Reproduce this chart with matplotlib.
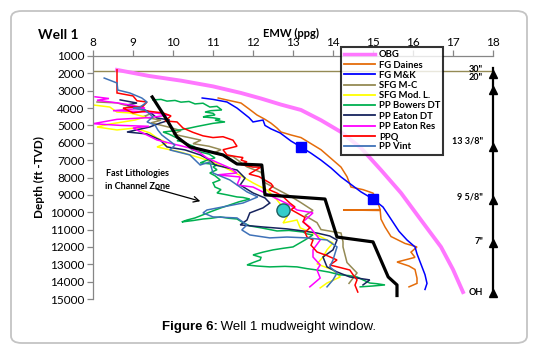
import matplotlib
matplotlib.use("Agg")
import matplotlib.pyplot as plt
from matplotlib.patches import FancyBboxPatch

plt.rcParams['font.family'] = ['Lato', 'DejaVu Sans']

# ---------------- data (EMW ppg, depth ft TVD) ----------------
obg_x = [8.6, 9.4, 10.2, 11.0, 11.7, 12.2, 12.7, 13.2, 13.7, 14.2, 14.7, 15.2, 15.7, 16.2, 16.7, 17.0, 17.25]
obg_d = [1800, 2150, 2420, 2750, 3130, 3450, 3800, 4110, 4700, 5380, 6300, 7570, 8890, 10450, 12000, 13300, 14600]

daines_x = [11.13, 11.4, 11.7, 11.9, 12.1, 12.3, 12.45, 12.6, 12.7, 12.95, 13.2, 13.45, 13.7, 13.95, 14.2, 14.35,
            14.45, 14.75, 15.0, 15.1, 15.18, 14.25, 15.18, 15.2, 15.3, 15.45, 15.8, 16.1, 15.95, 16.05, 15.6,
            15.9, 16.05, 16.1, 16.1, 15.9]
daines_d = [3420, 3560, 3710, 4050, 4400, 4650, 4870, 5150, 5380, 5550, 5700, 6050, 6400, 6900, 7400, 7950,
            8550, 8700, 8900, 9300, 9850, 9870, 9900, 10400, 10850, 11400, 11800, 12000, 12300, 12600, 12870,
            13100, 13300, 13800, 14100, 14300]

mk_x = [10.73, 11.0, 11.35, 11.6, 11.9, 12.0, 12.25, 12.3, 12.45, 12.68, 12.95, 13.2, 13.45, 13.7, 13.95, 14.2,
        14.45, 14.7, 15.0, 15.25, 15.45, 15.65, 15.85, 16.05, 16.1, 16.2, 16.3, 16.35, 16.3]
mk_d = [3420, 3500, 3650, 4000, 4550, 4800, 4690, 5000, 5200, 5435, 5900, 6240, 6600, 7000, 7450, 7970,
        8400, 8830, 9240, 9700, 10400, 11100, 11600, 12000, 12400, 13000, 13600, 14100, 14450]

mc_x = [8.1, 8.6, 8.9, 9.2, 9.5, 9.25, 9.7, 9.45, 9.9, 10.2, 10.0, 10.4, 10.7, 10.5, 10.9, 11.2, 11.0, 11.5,
        11.85, 12.2, 12.3, 12.7, 12.95, 13.2, 13.5, 13.3, 13.6, 13.7, 14.2, 14.25, 14.25, 14.35, 14.6, 14.4]
mc_d = [3650, 3700, 3900, 4100, 4280, 4500, 4700, 4850, 5100, 5300, 5500, 5700, 5850, 6050, 6200, 6400, 6600, 6800,
        7390, 7700, 8300, 8800, 9100, 9450, 9900, 10200, 10600, 11000, 11200, 11700, 12000, 12900, 13500, 14100]

modl_x = [8.0, 8.42, 8.6, 8.92, 9.3, 9.05, 8.42, 8.1, 8.6, 9.05, 9.42, 9.6, 9.85, 9.6, 10.18, 10.68, 11.05, 11.42,
          11.75, 12.0, 12.35, 12.6, 12.8, 12.85, 12.75, 13.1, 13.18, 13.6, 14.0, 13.85, 13.75, 13.6, 14.0, 14.18,
          13.85, 13.68]
modl_d = [3820, 3940, 4230, 4280, 4510, 4690, 4920, 5090, 5260, 5150, 5430, 5720, 6010, 6240, 6530, 6870, 7160, 7570,
          7970, 8310, 8720, 9290, 9870, 10270, 10620, 10450, 10900, 11310, 11770, 12170, 12580, 12980, 13330, 13730,
          14080, 14360]

bowers_x = [9.5, 9.7, 9.85, 10.05, 10.2, 10.4, 10.55, 10.75, 10.92, 11.1, 11.22, 10.95, 10.8, 11.0, 11.05, 10.85,
            10.75, 11.0, 11.18, 11.05, 11.3, 11.0, 10.8, 10.6, 10.42, 10.3, 10.18, 9.95, 9.75, 9.9, 10.05, 10.2,
            10.1, 10.25, 10.4, 10.55, 10.45, 10.68, 10.9, 11.05, 10.85, 10.68, 10.95, 11.1, 11.0, 11.1, 10.92,
            11.05, 11.18, 11.0, 11.05, 11.2, 11.1, 11.35, 11.6, 11.75, 11.92, 11.65, 11.42, 11.2, 10.92, 10.75,
            10.55, 10.35, 10.22, 10.5, 10.75, 10.95, 11.18, 11.4, 11.6, 11.75, 11.92, 12.2, 12.6, 12.9, 13.25,
            13.35, 13.5, 13.3, 13.0, 12.75, 12.5, 12.25, 12.0, 12.2, 12.18, 12.0, 11.85, 12.1, 12.42, 12.8, 13.1,
            13.35, 13.6, 13.9, 14.18, 14.4, 14.6, 14.75, 14.92, 15.1, 15.3, 15.0, 14.68]
bowers_d = [3530, 3500, 3600, 3560, 3660, 3620, 3760, 3720, 3940, 3900, 4110, 4150, 4230, 4300, 4400, 4450,
            4510, 4560, 4630, 4700, 4800, 4880, 4970, 5060, 5150, 5200, 5260, 5330, 5380, 5500, 5670, 5800,
            5880, 5950, 6100, 6240, 6380, 6530, 6650, 6870, 7000, 7160, 7220, 7280, 7390, 7550, 7740,
            7900, 8140, 8300, 8550, 8700, 8890, 9000, 9120, 9150, 9240, 9400, 9580, 9750, 9990, 10150,
            10330, 10450, 10560, 10480, 10390, 10350, 10270, 10350, 10390, 10600, 10790, 10900, 11080, 11050, 11140,
            11250, 11310, 11600, 12000, 12080, 12170, 12300, 12460, 12600, 12750, 12900, 13040, 13100, 13150, 13120, 13150,
            13250, 13330, 13450, 13610, 13650, 13730, 13900, 14080, 14120, 14190, 14250, 14300]

eaton_dt_x = [8.68, 9.1, 8.85, 9.18, 9.42, 9.6, 9.92, 9.68, 9.42, 8.85, 9.35, 9.68, 9.85, 10.3, 10.68, 10.92, 11.05,
              11.6, 11.8, 11.68, 12.0, 12.3, 12.42, 12.25, 11.92, 11.85, 11.68, 12.25, 12.85, 13.25, 13.6, 13.92,
              14.1, 14.0, 13.75, 13.85, 14.1, 14.42, 14.92, 14.75]
eaton_dt_d = [3530, 3710, 3820, 4000, 4230, 4570, 4690, 4860, 5090, 5380, 5490, 5840, 6240, 6410, 6700, 6990, 7280,
              7570, 8030, 8430, 8890, 9180, 9470, 9750, 10040, 10450, 10730, 10850, 10960, 11080, 11200, 11370,
              11600, 12170, 12580, 13150, 13440, 13730, 13900, 14190]

eaton_res_x = [8.05, 8.4, 8.1, 8.6, 9.0, 9.3, 8.5, 9.2, 9.6, 9.9, 9.4, 8.6, 8.0, 8.7, 9.4, 9.0, 9.6, 10.42, 10.68,
               10.85, 11.42, 11.6, 11.1, 11.68, 11.6, 12.0, 12.5, 12.92, 13.1, 13.5, 13.25, 13.42, 13.68, 13.5,
               13.5, 13.68, 13.6, 13.68, 13.42]
eaton_res_d = [3350, 3450, 3550, 3700, 3850, 4000, 4150, 4200, 4300, 4400, 4550, 4650, 4900, 5000, 5050, 5150, 5840,
               6300, 6590, 6875, 7450, 7740, 7850, 7970, 8430, 8550, 9120, 9580, 9870, 10040, 10560, 10850, 11600,
               12170, 12580, 13040, 13330, 13790, 14300]

ppq_x = [8.6, 8.6, 9.0, 9.1, 9.35, 9.25, 8.75, 9.0, 9.35, 9.75, 9.95, 9.8, 10.1, 10.25, 10.5, 10.75, 11.0, 11.25,
         11.5, 11.6, 11.25, 11.35, 11.6, 11.75, 11.7, 11.85, 11.7, 12.0, 12.2, 12.05, 11.9, 12.15, 12.3, 12.45,
         12.5, 12.4, 12.6, 12.75, 12.92, 13.05, 12.95, 13.1, 13.3, 13.25, 13.42, 13.3, 13.35, 13.5, 13.45, 13.6,
         13.85, 14.1, 13.92, 14.2, 14.42, 14.5, 14.6, 14.55, 14.62]
ppq_d = [1800, 3130, 3300, 3580, 3650, 3900, 4000, 4280, 4170, 4280, 4450, 4740, 4800, 5150, 5400, 5600, 5700, 5650,
         5850, 6200, 6400, 6700, 6800, 6850, 7000, 7100, 7250, 7400, 7400, 7600, 7800, 7950, 8150, 8350,
         8500, 8700, 8900, 9100, 9470, 9700, 9850, 10040, 10300, 10550, 10900, 11150, 11430, 11600, 11900, 12290,
         12500, 12750, 13040, 13200, 13330, 13600, 13900, 14200, 14600]

vint_x = [8.28, 8.6, 8.62, 8.92, 9.22, 9.35, 9.18, 9.0, 9.3, 9.5, 9.35, 9.55, 9.62, 9.72, 10.05, 9.92, 10.42, 10.68,
          10.92, 11.0, 11.42, 11.85, 12.12, 11.75, 10.85, 10.75, 11.0, 11.6, 11.85, 11.72, 11.92, 12.42, 12.85,
          13.35, 13.85, 14.1, 14.0, 13.92, 14.1, 14.0, 13.85]
vint_d = [2270, 2555, 2960, 3130, 3420, 3650, 3940, 4000, 4110, 4510, 4800, 4975, 5260, 5550, 6130, 6410, 6700, 7280,
          7100, 7740, 8140, 8830, 9120, 9470, 9870, 10040, 10270, 10330, 10730, 11020, 11310, 11480, 11430,
          11480, 11600, 12000, 12750, 13150, 13500, 13900, 14300]

mw_x = [9.48, 9.85, 10.1, 10.43, 11.25, 11.6, 12.22, 12.3, 13.8, 14.1, 15.0, 15.38, 15.6, 15.6]
mw_d = [3360, 4690, 5670, 6240, 6700, 7220, 7280, 9000, 9240, 11430, 11710, 13730, 14190, 14800]

shoe_x = [13.2, 15.0]
shoe_d = [6240, 9240]
event_x = [12.75]
event_d = [9870]

casing_labels = ['30"', '20"', '13 3/8"', '9 5/8"', '7"', 'OH']
casing_d = [2050, 2950, 6250, 9300, 11750, 14650]
casing_label_d = [1750, 2210, 5900, 9120, 11660, 14650]
conductor_d = 1850

series = [
    ('OBG', obg_x, obg_d, '#FF77FF', 2.8),
    ('FG Daines', daines_x, daines_d, '#E46C0A', 1.1),
    ('FG M&K', mk_x, mk_d, '#0000FF', 1.1),
    ('SFG M-C', mc_x, mc_d, '#948A54', 1.1),
    ('SFG Mod. L.', modl_x, modl_d, '#FFFF00', 1.1),
    ('PP Bowers DT', bowers_x, bowers_d, '#00B050', 1.1),
    ('PP Eaton DT', eaton_dt_x, eaton_dt_d, '#17245E', 1.1),
    ('PP Eaton Res', eaton_res_x, eaton_res_d, '#FF00FF', 1.1),
    ('PPQ', ppq_x, ppq_d, '#FF0000', 1.1),
    ('PP Vint', vint_x, vint_d, '#3F72B8', 1.1),
]

# ---------------- figure ----------------
W, H = 538, 354
fig = plt.figure(figsize=(W / 100, H / 100), dpi=100)
border = FancyBboxPatch((11 / W, 11 / H), 516 / W, 332 / H,
                        boxstyle="round,pad=0,rounding_size=0.02",
                        transform=fig.transFigure, fc='none', ec='#C4C4C4', lw=1.3, zorder=-5)
fig.patches.append(border)

ax = fig.add_axes([93 / W, 1 - 299 / H, 400 / W, 243 / H])
ax.set_facecolor('none')
ax.set_xlim(8, 18)
ax.set_ylim(15000, 1000)

ax.axhline(conductor_d, color='#948A54', lw=1.0, zorder=1)

for name, xs, ds, col, lw in series:
    ax.plot(xs, ds, color=col, lw=lw, label=name, solid_joinstyle='miter')

ax.plot(mw_x, mw_d, color='black', lw=2.3, zorder=6)
ax.plot(shoe_x, shoe_d, 's', color='#0000FF', ms=7, zorder=7, ls='none')
ax.plot(event_x, event_d, 'o', color='#33CCCC', mec='#1E5E5E', mew=1.0, ms=9.5, zorder=7, ls='none')

# casing arrows on right side
ax.plot([18, 18], [1700, 14850], color='black', lw=1.6, zorder=6, clip_on=False)
ax.plot([18] * len(casing_d), casing_d, '^', color='black', ms=6, zorder=7, clip_on=False, ls='none')
for lab, d in zip(casing_labels, casing_label_d):
    ax.text(17.75, d, lab, ha='right', va='center', fontsize=6.5, fontweight='bold')

# annotation
ax.text(9.1, 8150, 'Fast Lithologies\nin Channel Zone', ha='center', va='center',
        fontsize=6.5, fontweight='bold', linespacing=1.5)
ax.annotate('', xy=(10.75, 9410), xytext=(9.5, 8600),
            arrowprops=dict(arrowstyle='->', color='black', lw=0.9))

# axes styling
ax.xaxis.tick_top()
ax.set_xticks(range(8, 19))
ax.set_yticks(range(1000, 15001, 1000))
for s in ['bottom', 'right']:
    ax.spines[s].set_visible(False)
for s in ['top', 'left']:
    ax.spines[s].set_color('#868686')
    ax.spines[s].set_linewidth(0.9)
ax.tick_params(axis='both', colors='#868686', length=4, width=0.9, labelcolor='black', labelsize=8.5)
ax.tick_params(axis='x', pad=2)
ax.tick_params(axis='y', pad=2)

ax.set_ylabel('Depth (ft -TVD)', fontsize=8.5, fontweight='bold', labelpad=4)
fig.text(263 / W, 1 - 33 / H, 'EMW (ppg)', fontsize=8, fontweight='bold', va='center', ha='left')
fig.text(38 / W, 1 - 35 / H, 'Well 1', fontsize=10, fontweight='bold', va='center', ha='left')

leg = ax.legend(loc='upper left', bbox_to_anchor=(0.62, 1.037), fontsize=6.8, frameon=True,
                fancybox=False, handlelength=3.3, handletextpad=0.35, labelspacing=0.13,
                borderpad=0.35, borderaxespad=0)
for t in leg.get_texts():
    t.set_fontweight('bold')
leg.get_frame().set_edgecolor('black')
leg.get_frame().set_linewidth(1.5)
for h in leg.get_lines():
    h.set_linewidth(1.3)
leg.get_lines()[0].set_linewidth(2.5)
leg.set_zorder(10)

# caption: bold part + normal part
renderer = fig.canvas.get_renderer()
cap_b = fig.text(0, 1 - 327 / H, 'Figure 6:', fontsize=9.5, family='Liberation Sans',
                 fontweight='bold', va='center', ha='left')
cap_n = fig.text(0, 1 - 327 / H, ' Well 1 mudweight window.', fontsize=9.5, family='Liberation Sans',
                 va='center', ha='left')
wb = cap_b.get_window_extent(renderer).width
wn = cap_n.get_window_extent(renderer).width
x0 = (W - wb - wn) / 2
cap_b.set_x(x0 / W)
cap_n.set_x((x0 + wb) / W)

fig.savefig('out.png', dpi=100)
